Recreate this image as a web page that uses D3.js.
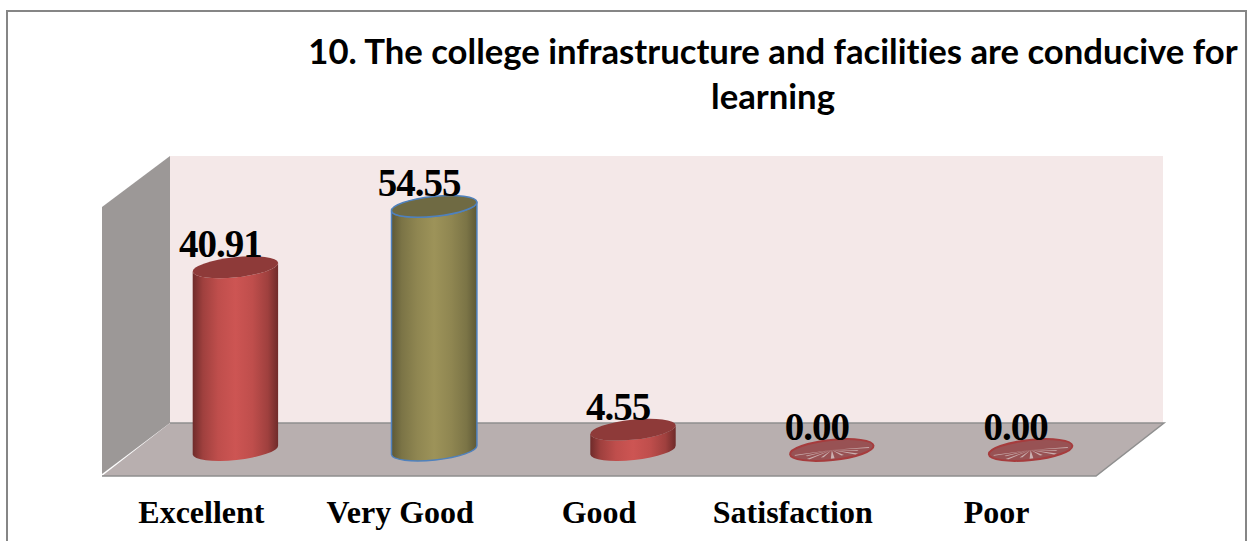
<!DOCTYPE html>
<html>
<head>
<meta charset="utf-8">
<script src="https://cdn.jsdelivr.net/npm/d3@7"></script>
<style>
  html, body { margin: 0; padding: 0; background: #fff; overflow: hidden; }
  .val { font-family: "Liberation Serif", serif; font-weight: bold; font-size: 39px; letter-spacing: -1px; }
  .cat { font-family: "Liberation Serif", serif; font-weight: bold; font-size: 32px; }
  .title { font-family: Lato, sans-serif; font-weight: bold; font-size: 34.7px; font-variant-ligatures: none; }
</style>
</head>
<body>
<svg id="chart" width="1250" height="541"></svg>
<script>
var categories = ["Excellent", "Very Good", "Good", "Satisfaction", "Poor"];
var values = [40.91, 54.55, 4.55, 0.00, 0.00];
var valueLabels = ["40.91", "54.55", "4.55", "0.00", "0.00"];
var titleLines = ["10. The college infrastructure and facilities are conducive for", "learning"];
var yDomain = [0, 60];

var svg = d3.select("#chart");
var floorFront = 476;

// scales are for the middle plane, where the cylinders stand
var x = d3.scaleBand().domain(categories).range([136, 1130]).paddingInner(0.568).paddingOuter(0.284);
var y = d3.scaleLinear().domain(yDomain).range([450, 182]);

var rx = x.bandwidth() / 2, ry = 10, tilt = 6;
var dx = rx * Math.cos(tilt * Math.PI / 180), dy = rx * Math.sin(tilt * Math.PI / 180);

var defs = svg.append("defs");

function addGradient(id, edge, mid, center) {
    var g = defs.append("linearGradient").attr("id", id);
    [[0, edge], [0.12, d3.interpolateRgb(edge, mid)(0.6)], [0.3, mid], [0.5, center], [0.7, mid], [0.88, d3.interpolateRgb(edge, mid)(0.6)], [1, edge]]
        .forEach(function(s) {
            g.append("stop").attr("offset", s[0]).attr("stop-color", s[1]);
        });
}
addGradient("redCyl", "#6f2b2a", "#bf4e4c", "#cd5553");
addGradient("oliveCyl", "#5d5836", "#8f8651", "#9d9359");

// frame
svg.append("rect").attr("x", 7).attr("y", 11).attr("width", 1239).attr("height", 560)
    .attr("fill", "#fff").attr("stroke", "#868686").attr("stroke-width", 2);

// back wall, side wall, floor
svg.append("rect").attr("x", 170).attr("y", 156).attr("width", 993).attr("height", 267).attr("fill", "#f4e8e8");
svg.append("polygon").attr("points", [[102, 207], [170, 156], [170, 423], [102, floorFront - 2]].join(" ")).attr("fill", "#9c9897");
svg.append("polygon")
    .attr("points", [[102, floorFront], [170, 423], [1164, 423], [1096, floorFront]].join(" "))
    .attr("fill", "#b8afaf");
svg.append("path").attr("d", "M102,476H1096L1164,423H170").attr("fill", "none").attr("stroke", "#8f8f8f").attr("stroke-width", 1.5);

var bars = svg.selectAll("g.bar").data(categories).enter().append("g").attr("class", "bar");

function cylinderPath(cx, top, base) {
    return "M" + (cx - dx) + "," + (top + dy) +
        "L" + (cx - dx) + "," + (base + dy) +
        "A" + rx + "," + ry + "," + (-tilt) + ",0,0," + (cx + dx) + "," + (base - dy) +
        "L" + (cx + dx) + "," + (top - dy) +
        "A" + rx + "," + ry + "," + (-tilt) + ",0,1," + (cx - dx) + "," + (top + dy) + "Z";
}

bars.each(function(d, i) {
    var g = d3.select(this);
    var cx = x(d) + x.bandwidth() / 2;
    var top = y(values[i]), base = y(0);
    var olive = i === 1;

    if (values[i] > 0) {
        g.append("path").attr("d", cylinderPath(cx, top, base))
            .attr("fill", olive ? "url(#oliveCyl)" : "url(#redCyl)")
            .attr("stroke", olive ? "#4f81bd" : "none").attr("stroke-width", 1.5);
        g.append("ellipse").attr("rx", rx).attr("ry", ry)
            .attr("transform", "translate(" + cx + "," + top + ") rotate(" + (-tilt) + ")")
            .attr("fill", olive ? "#6f6a43" : "#8e3a39")
            .attr("stroke", olive ? "#4f81bd" : "none").attr("stroke-width", 1.5);
    } else {
        // zero height cylinder, just a flat disc with the facets showing
        var disc = g.append("g").attr("transform", "translate(" + cx + "," + top + ") rotate(" + (-tilt) + ")");
        disc.append("ellipse").attr("rx", rx - 1).attr("ry", ry).attr("fill", "#985254")
            .attr("stroke", "#a63c3d").attr("stroke-width", 2);
        d3.range(9).forEach(function(k) {
            var a = Math.PI * (1 - (k + 0.5) / 9);
            var wob = k % 2 ? 0.75 : 0.95;
            disc.append("polygon")
                .attr("points", [[0, 0],
                    [wob * (rx - 3) * Math.cos(a - 0.05), wob * (ry - 1) * Math.sin(a - 0.05)],
                    [wob * (rx - 3) * Math.cos(a + 0.05), wob * (ry - 1) * Math.sin(a + 0.05)]].join(" "))
                .attr("fill", "#cbb0b0");
        });
    }

    g.append("text").attr("class", "val")
        .attr("x", cx - 15).attr("y", top - 10)
        .attr("text-anchor", "middle").text(valueLabels[i]);
});

// category labels sit along the front edge of the floor
svg.selectAll("text.cat").data(categories).enter().append("text")
    .attr("class", "cat")
    .attr("x", function(d) {
        // Satisfaction sits a little left of its slot in the original
        return x(d) + x.bandwidth() / 2 - (d === "Satisfaction" ? 39 : 34);
    })
    .attr("y", 523)
    .attr("text-anchor", "middle")
    .text(function(d) { return d; });

svg.selectAll("text.title").data(titleLines).enter().append("text")
    .attr("class", "title")
    .attr("x", 773)
    .attr("y", function(d, i) { return 64 + i * 45; })
    .attr("text-anchor", "middle")
    .text(function(d) { return d; });
</script>
</body>
</html>
